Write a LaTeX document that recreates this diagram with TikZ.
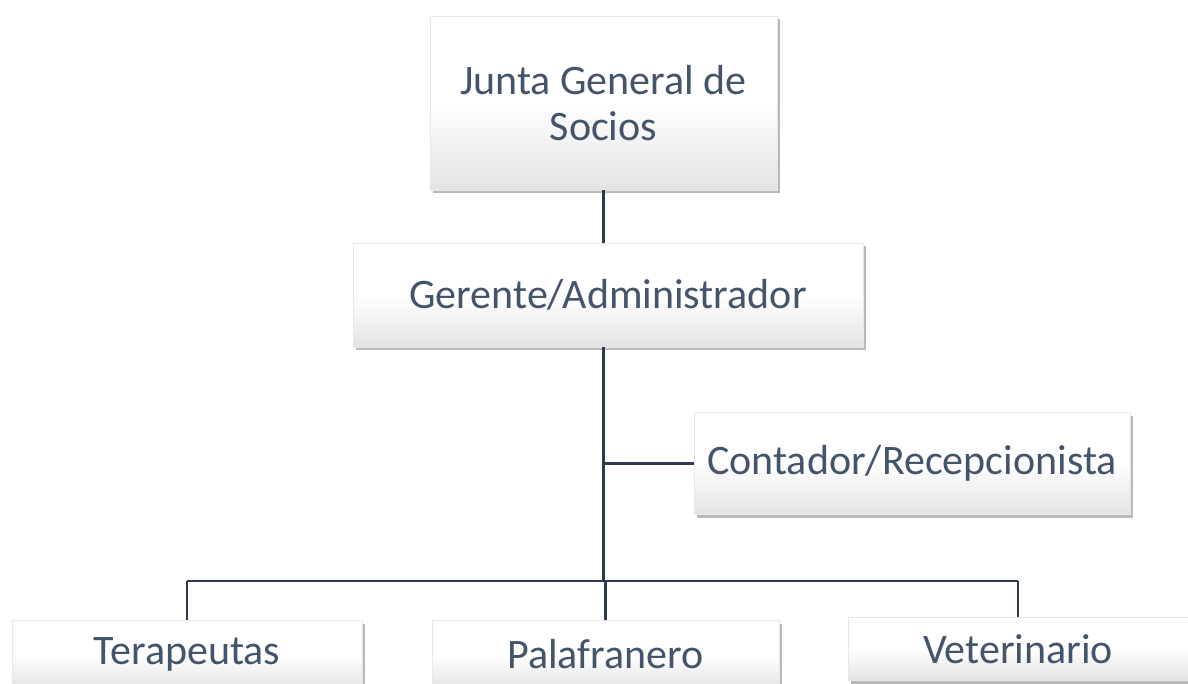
\documentclass[tikz,border=0pt]{standalone}
\usepackage{fontspec}
\setmainfont{Carlito}
\usetikzlibrary{shadows}
\definecolor{txt}{HTML}{44546A}
\definecolor{ln}{HTML}{2B3A4E}
\tikzset{
  orgbox/.style={draw=black!9, line width=0.8pt, top color=white, bottom color=black!11, middle color=white,
    shading angle=0, drop shadow={shadow xshift=2.5pt, shadow yshift=-3.5pt, fill=black!50, opacity=.55},
    text=txt, font=\fontsize{42}{46}\selectfont, align=center, inner sep=0pt},
  conn/.style={draw=ln, line width=3pt},
  thin/.style={draw=ln, line width=2.3pt}
}
\begin{document}
\begin{tikzpicture}[x=1pt,y=-1pt]
\useasboundingbox[fill=white] (0,0) rectangle (1188,684);
\node[orgbox, minimum width=347pt, minimum height=174pt] (junta) at (603.5,103) {Junta General de\\Socios};
\node[orgbox, minimum width=510pt, minimum height=104pt] (ger) at (608,295) {Gerente/Administrador};
\node[orgbox, minimum width=436pt, minimum height=102pt] (cont) at (912,463) {Contador/Recepcionista};
\node[orgbox, minimum width=350pt, minimum height=68pt, anchor=north] (ter) at (187,620) {Terapeutas};
\node[orgbox, minimum width=347pt, minimum height=68pt, anchor=north] (pal) at (605.5,620) {Palafranero};
\node[orgbox, minimum width=340pt, minimum height=63pt, anchor=north] (vet) at (1018,617) {Veterinario};
\coordinate (bus) at (603,581);
\coordinate (tap) at (603,463);
\draw[conn] (junta.south) -- (junta.south |- ger.north);
\draw[conn] (ger.south -| bus) -- (bus);
\draw[conn] (tap) -- (cont.west);
\draw[thin] (ter.north |- bus) -- (vet.north |- bus);
\draw[thin] (ter.north |- bus) -- (ter.north);
\draw[thin] (pal.north |- bus) -- (pal.north);
\draw[thin] (vet.north |- bus) -- (vet.north);
\end{tikzpicture}
\end{document}
